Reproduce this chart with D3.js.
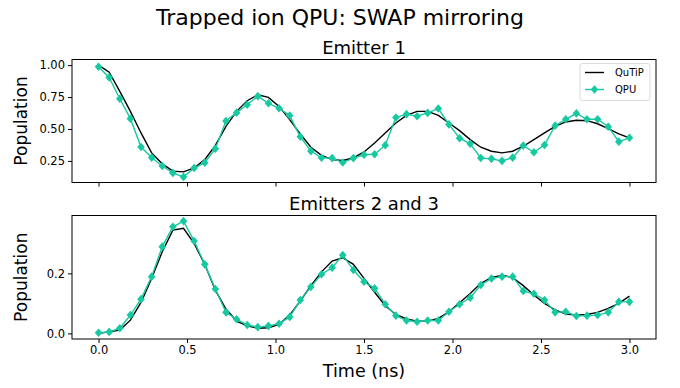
<!DOCTYPE html>
<html>
<head>
<meta charset="utf-8">
<script src="https://cdn.jsdelivr.net/npm/d3@7"></script>
<style>
	body { margin: 0; background: #fff; }
	svg { display: block; font-family: "DejaVu Sans", sans-serif; }
</style>
</head>
<body>
<div id="chart"></div>
<script>
// time grid shared by simulation and hardware runs (ns)
const times = [
	0.00, 0.06, 0.12, 0.18, 0.24, 0.30, 0.36, 0.42, 0.48, 0.54,
	0.60, 0.66, 0.72, 0.78, 0.84, 0.90, 0.96, 1.02, 1.08, 1.14,
	1.20, 1.26, 1.32, 1.38, 1.44, 1.50, 1.56, 1.62, 1.68, 1.74,
	1.80, 1.86, 1.92, 1.98, 2.04, 2.10, 2.16, 2.22, 2.28, 2.34,
	2.40, 2.46, 2.52, 2.58, 2.64, 2.70, 2.76, 2.82, 2.88, 2.94,
	3.00
];

const emitter1Qutip = [
	1.000, 0.945, 0.794, 0.638, 0.469, 0.313, 0.227, 0.170, 0.164, 0.195,
	0.260, 0.372, 0.521, 0.638, 0.721, 0.768, 0.747, 0.677, 0.573, 0.461,
	0.357, 0.294, 0.260, 0.253, 0.273, 0.320, 0.390, 0.469, 0.547, 0.607,
	0.638, 0.638, 0.607, 0.547, 0.487, 0.417, 0.357, 0.326, 0.313, 0.326,
	0.365, 0.417, 0.469, 0.521, 0.555, 0.568, 0.565, 0.541, 0.502, 0.461,
	0.430
];

const emitter1Qpu = [
	0.987, 0.904, 0.737, 0.581, 0.359, 0.276, 0.210, 0.156, 0.125, 0.194,
	0.236, 0.345, 0.563, 0.628, 0.690, 0.757, 0.701, 0.662, 0.605, 0.439,
	0.327, 0.275, 0.272, 0.237, 0.272, 0.298, 0.302, 0.373, 0.590, 0.616,
	0.600, 0.626, 0.660, 0.536, 0.428, 0.384, 0.273, 0.266, 0.250, 0.276,
	0.370, 0.318, 0.375, 0.526, 0.576, 0.622, 0.576, 0.576, 0.518, 0.401,
	0.431
];

const emitters23Qutip = [
	0.000, 0.005, 0.011, 0.044, 0.103, 0.183, 0.272, 0.344, 0.350, 0.300,
	0.230, 0.144, 0.081, 0.041, 0.025, 0.017, 0.019, 0.030, 0.061, 0.108,
	0.159, 0.205, 0.241, 0.252, 0.230, 0.183, 0.137, 0.092, 0.063, 0.048,
	0.041, 0.041, 0.050, 0.072, 0.102, 0.133, 0.167, 0.186, 0.194, 0.186,
	0.159, 0.128, 0.100, 0.078, 0.064, 0.061, 0.063, 0.070, 0.083, 0.100,
	0.124
];

const emitters23Qpu = [
	0.002, 0.005, 0.017, 0.061, 0.114, 0.189, 0.289, 0.355, 0.374, 0.308,
	0.230, 0.148, 0.070, 0.047, 0.028, 0.021, 0.025, 0.032, 0.055, 0.111,
	0.155, 0.197, 0.219, 0.261, 0.211, 0.172, 0.150, 0.097, 0.059, 0.043,
	0.039, 0.043, 0.043, 0.072, 0.097, 0.119, 0.161, 0.183, 0.189, 0.189,
	0.141, 0.132, 0.111, 0.070, 0.072, 0.058, 0.059, 0.061, 0.070, 0.105,
	0.105
];

const xTicks = [0.0, 0.5, 1.0, 1.5, 2.0, 2.5, 3.0];
const emitter1YTicks = [0.25, 0.50, 0.75, 1.00];
const emitters23YTicks = [0.0, 0.2];

const seriesNames = ["QuTiP", "QPU"];

const qpuColor = "#17c9a0";
const width = 680;
const height = 388;
const tickLen = 4;
const tickFont = 11.5;

const svg = d3.select("#chart").append("svg")
	.attr("width", width)
	.attr("height", height);

// shared time axis, both panels use the same horizontal extent
const xscale = d3.scaleLinear()
	.domain([-0.15, 3.15])
	.range([72, 656]);

svg.append("text")
	.attr("x", 340)
	.attr("y", 25)
	.attr("text-anchor", "middle")
	.attr("font-size", 22)
	.text("Trapped ion QPU: SWAP mirroring");

// matplotlib style "D" marker
const diamond = "M0,-4.3L3.8,0L0,4.3L-3.8,0Z";

function drawPanel(opts) {
	const yscale = d3.scaleLinear()
		.domain(opts.yDomain)
		.range([opts.bottom, opts.top]);

	const g = svg.append("g");

	// x axis, labels only on the lowest panel
	const xAxis = d3.axisBottom(xscale)
		.tickValues(xTicks)
		.tickSize(tickLen)
		.tickSizeOuter(0)
		.tickPadding(3)
		.tickFormat(opts.showXLabels ? d3.format(".1f") : "");

	g.append("g")
		.attr("transform", `translate(0, ${opts.bottom})`)
		.call(xAxis)
		.call(a => a.select(".domain").remove())
		.call(a => a.selectAll("text").attr("font-size", tickFont).attr("fill", "#000").attr("font-family", "DejaVu Sans"));

	const yAxis = d3.axisLeft(yscale)
		.tickValues(opts.yTicks)
		.tickSize(tickLen)
		.tickSizeOuter(0)
		.tickPadding(3)
		.tickFormat(d3.format(opts.yFormat));

	g.append("g")
		.attr("transform", `translate(${xscale.range()[0]}, 0)`)
		.call(yAxis)
		.call(a => a.select(".domain").remove())
		.call(a => a.selectAll("text").attr("font-size", tickFont).attr("fill", "#000").attr("font-family", "DejaVu Sans"));

	const simLine = d3.line()
		.x((d, i) => xscale(times[i]))
		.y(d => yscale(d));

	g.append("path")
		.datum(opts.qutip)
		.attr("fill", "none")
		.attr("stroke", "#000")
		.attr("stroke-width", 1.4)
		.attr("d", simLine);

	g.append("path")
		.datum(opts.qpu)
		.attr("fill", "none")
		.attr("stroke", qpuColor)
		.attr("stroke-width", 1.4)
		.attr("d", simLine);

	g.append("g")
		.attr("fill", qpuColor)
		.selectAll("path")
		.data(opts.qpu)
		.join("path")
		.attr("transform", (d, i) => `translate(${xscale(times[i])}, ${yscale(d)})`)
		.attr("d", diamond);

	// axes frame
	g.append("rect")
		.attr("x", xscale.range()[0])
		.attr("y", opts.top)
		.attr("width", xscale.range()[1] - xscale.range()[0])
		.attr("height", opts.bottom - opts.top)
		.attr("fill", "none")
		.attr("stroke", "#000")
		.attr("stroke-width", 1);

	const cx = (xscale.range()[0] + xscale.range()[1]) / 2;

	g.append("text")
		.attr("x", cx)
		.attr("y", opts.top - 6)
		.attr("text-anchor", "middle")
		.attr("font-size", 18)
		.text(opts.title);

	g.append("text")
		.attr("transform", `translate(27, ${(opts.top + opts.bottom) / 2}) rotate(-90)`)
		.attr("text-anchor", "middle")
		.attr("font-size", 17)
		.text("Population");

	return g;
}

const topPanel = drawPanel({
	title: "Emitter 1",
	top: 59.5,
	bottom: 182.5,
	yDomain: [0.081, 1.044],
	yTicks: emitter1YTicks,
	yFormat: ".2f",
	qutip: emitter1Qutip,
	qpu: emitter1Qpu,
	showXLabels: false
});

drawPanel({
	title: "Emitters 2 and 3",
	top: 215.5,
	bottom: 339,
	yDomain: [-0.0187, 0.3927],
	yTicks: emitters23YTicks,
	yFormat: ".1f",
	qutip: emitters23Qutip,
	qpu: emitters23Qpu,
	showXLabels: true
});

svg.append("text")
	.attr("x", 364)
	.attr("y", 377)
	.attr("text-anchor", "middle")
	.attr("font-size", 17.5)
	.text("Time (ns)");

// legend in the upper right of the first panel
const legend = topPanel.append("g")
	.attr("transform", "translate(580, 63.5)");

legend.append("rect")
	.attr("width", 70)
	.attr("height", 37)
	.attr("rx", 2.5)
	.attr("fill", "#fff")
	.attr("fill-opacity", 0.8)
	.attr("stroke", "#d0d0d0")
	.attr("stroke-width", 0.8);

const rows = legend.selectAll("g.row")
	.data(seriesNames)
	.join("g")
	.attr("class", "row")
	.attr("transform", (d, i) => `translate(0, ${9 + i * 17})`);

rows.append("line")
	.attr("x1", 5)
	.attr("x2", 24)
	.attr("stroke", (d, i) => i === 0 ? "#000" : qpuColor)
	.attr("stroke-width", 1.4);

rows.filter((d, i) => i === 1)
	.append("path")
	.attr("transform", "translate(14.5, 0)")
	.attr("d", diamond)
	.attr("fill", qpuColor);

rows.append("text")
	.attr("x", 35)
	.attr("dy", "0.35em")
	.attr("font-size", 10)
	.text(d => d);
</script>
</body>
</html>
